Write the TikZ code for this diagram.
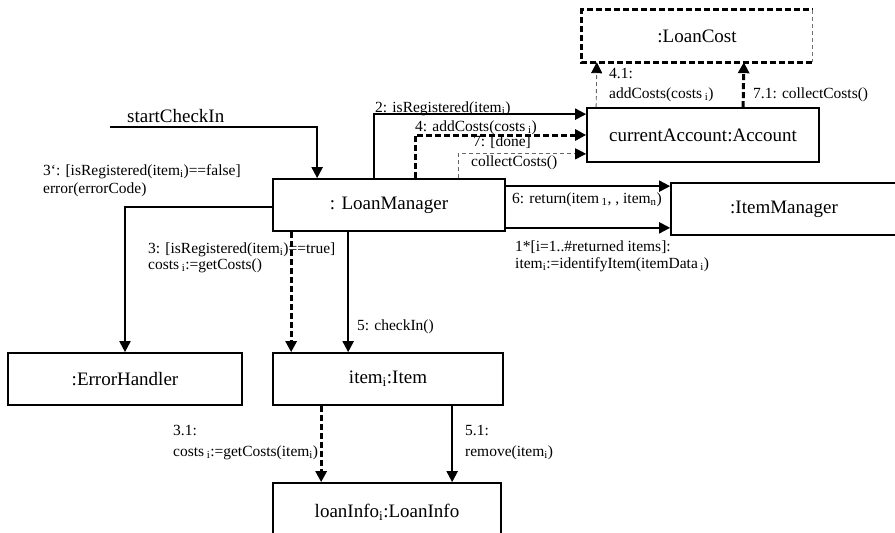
\documentclass[tikz,border=0pt]{standalone}
\usepackage{fontspec}
\setmainfont{Liberation Serif}
\usetikzlibrary{arrows.meta,calc}

\begin{document}
\begin{tikzpicture}[x=1pt,y=-1pt,
  obj/.style={draw,line width=1.7pt,inner sep=0pt,font=\fontsize{19}{22}\selectfont},
  plainobj/.style={inner sep=0pt,font=\fontsize{19}{22}\selectfont},
  lbl/.style={anchor=base west,inner sep=0pt,font=\fontsize{15.5}{18}\selectfont},
  biglbl/.style={anchor=base west,inner sep=0pt,font=\fontsize{19}{22}\selectfont},
  tip/.style={-{Triangle[length=11pt,width=11pt,color=black]}},
  msg/.style={tip,line width=2pt},
  heavymsg/.style={tip,line width=3pt,dash pattern=on 6pt off 3pt},
  lightmsg/.style={tip,line width=0.9pt,draw=black!60,dash pattern=on 4pt off 3pt},
  heavyedge/.style={line width=3pt,dash pattern=on 6pt off 3pt},
  lightedge/.style={line width=0.9pt,draw=black!55,dash pattern=on 4pt off 3pt}]
\useasboundingbox (0,0) rectangle (895,533);

% objects
\node[plainobj,minimum width=230pt,minimum height=52pt] (cost) at (697,36) {:LoanCost};
\node[obj,minimum width=232pt,minimum height=54pt] (acct) at (703,135) {currentAccount:Account};
\node[obj,minimum width=232pt,minimum height=52pt] (lm) at (389,205) {: LoanManager};
\node[obj,minimum width=226pt,minimum height=52pt] (im) at (784,209) {:ItemManager};
\node[obj,minimum width=234pt,minimum height=52pt] (err) at (125,379) {:ErrorHandler};
\node[obj,minimum width=230pt,minimum height=52pt] (item) at (388,379) {item\textsubscript{i}:Item};
\node[obj,minimum width=228pt,minimum height=58pt] (info) at (387,512) {loanInfo\textsubscript{i}:LoanInfo};

% border of the LoanCost object
\draw[heavyedge] (cost.south east) -- (cost.south west) -- (cost.north west) -- (cost.north east);
\draw[lightedge] (cost.north east) -- (cost.south east);

% incoming trigger
\coordinate (start) at (110,127);
\draw[msg] (start) -| ([xshift=45pt]lm.north west);
\node[biglbl] (tstart) at (127,122) {startCheckIn};

% LoanManager -> currentAccount
\coordinate (a2) at ($(acct.north west)+(0,7)$);
\coordinate (a7) at ($(acct.south west)+(0,-9)$);
\draw[msg] ([xshift=102pt]lm.north west) |- (a2);
\draw[heavymsg] ([xshift=143pt]lm.north west) |- (acct.west);
\draw[lightmsg] ([xshift=186pt]lm.north west) |- (a7);
\node[lbl] (t2) at (375,112) {2: isRegistered(item\textsubscript{i})};
\node[lbl] (t4) at (415,131) {4: addCosts(costs\,\textsubscript{i})};
\node[lbl] (t7a) at (473,146) {7: [done]};
\node[lbl] (t7b) at (471,166) {collectCosts()};

% currentAccount -> LoanCost
\draw[lightmsg] ([xshift=10pt]acct.north west) -- ([xshift=15pt]cost.south west);
\draw[heavymsg] ([xshift=157pt]acct.north west) -- ([xshift=162pt]cost.south west);
\node[lbl] (t41a) at (609,78) {4.1:};
\node[lbl] (t41b) at (609,98) {addCosts(costs\,\textsubscript{i})};
\node[lbl] (t71) at (753,98) {7.1: collectCosts()};

% LoanManager -> ItemManager
\draw[msg] ([yshift=-8pt]lm.north east) -- ([yshift=-4pt]im.north west);
\draw[msg] ([yshift=4pt]lm.south east) -- ([yshift=8pt]im.south west);
\node[lbl] (t6) at (512,203) {6: return(item\,\textsubscript{1}, , item\textsubscript{n})};
\node[lbl] (t1a) at (515,251) {1*[i=1..\#returned items]:};
\node[lbl] (t1b) at (515,268) {item\textsubscript{i}:=identifyItem(itemData\,\textsubscript{i})};

% LoanManager -> ErrorHandler
\draw[msg] ([yshift=-2pt]lm.west) -| (err.north);
\node[lbl] (t3e1) at (43,175) {3‘: [isRegistered(item\textsubscript{i})==false]};
\node[lbl] (t3e2) at (43,193) {error(errorCode)};

% LoanManager -> item
\draw[heavymsg] ([xshift=19pt]lm.south west) -- ([xshift=19pt]item.north west);
\draw[msg] ([xshift=76pt]lm.south west) -- ([xshift=76pt]item.north west);
\node[lbl] (t3a) at (148,253) {3: [isRegistered(item\textsubscript{i})==true]};
\node[lbl] (t3b) at (148,269) {costs\,\textsubscript{i}:=getCosts()};
\node[lbl] (t5) at (357,330) {5: checkIn()};

% item -> loanInfo
\draw[heavymsg] ([xshift=49pt]item.south west) -- ([xshift=49pt]info.north west);
\draw[msg] ([xshift=180pt]item.south west) -- ([xshift=180pt]info.north west);
\node[lbl] (t31a) at (173,435) {3.1:};
\node[lbl] (t31b) at (173,456) {costs\,\textsubscript{i}:=getCosts(item\textsubscript{i})};
\node[lbl] (t51a) at (465,435) {5.1:};
\node[lbl] (t51b) at (465,456) {remove(item\textsubscript{i})};
\end{tikzpicture}
\end{document}
